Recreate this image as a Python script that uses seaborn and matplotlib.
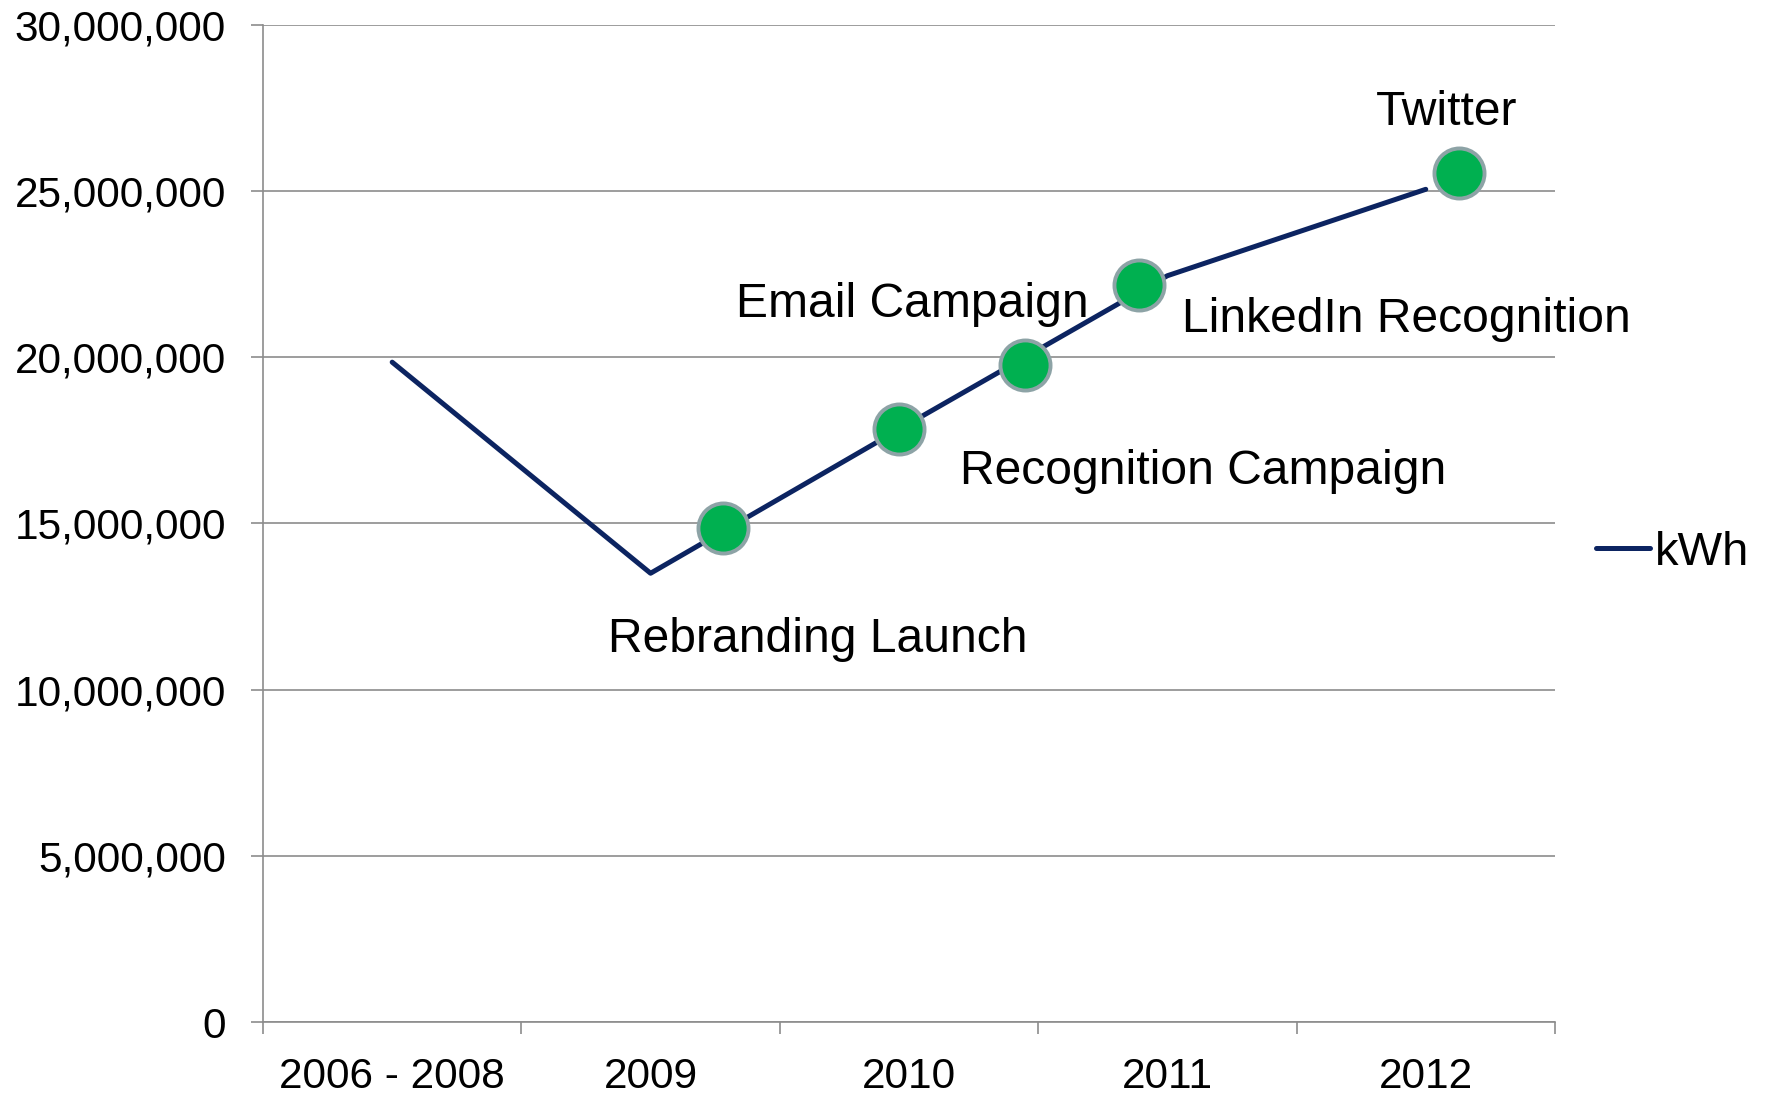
import numpy as np
import pandas as pd
import matplotlib
matplotlib.use("Agg")
import matplotlib.pyplot as plt
import matplotlib.ticker as mticker
import seaborn as sns

# ---- data ----
categories = ["2006 - 2008", "2009", "2010", "2011", "2012"]
kwh = [19850000, 13500000, 18000000, 22450000, 25050000]

milestone_labels = ["Rebranding Launch", "Email Campaign", "Recognition Campaign",
                    "LinkedIn Recognition", "Twitter"]
milestone_x = [1.28, 1.96, 2.45, 2.89, 4.13]          # position along category axis
milestone_y = [14850000, 17840000, 19770000, 22180000, 25550000]

# label anchors (data coords)
label_x = [0.834, 1.332, 2.197, 3.057, 4.079]
label_y = [11520000, 21570000, 16550000, 21130000, 27350000]
label_ha = ["left", "left", "left", "left", "center"]

yticks = [0, 5000000, 10000000, 15000000, 20000000, 25000000, 30000000]

# ---- style ----
sns.set_style("white")
plt.rcParams["font.family"] = ["Liberation Sans", "DejaVu Sans"]
plt.rcParams["text.color"] = "black"
plt.rcParams["xtick.labelcolor"] = "black"
plt.rcParams["ytick.labelcolor"] = "black"

GRID = "#8c8c8c"
NAVY = "#0c2461"

fig = plt.figure(figsize=(17.71, 10.96), dpi=100)
ax = fig.add_axes([0.1485, 0.0675, 0.878 - 0.1485, 0.9774 - 0.0675])

df = pd.DataFrame({"x": np.arange(len(categories)), "kWh": kwh})
sns.lineplot(data=df, x="x", y="kWh", ax=ax, color=NAVY, linewidth=3.6,
             label="kWh", zorder=3)

mdf = pd.DataFrame({"x": milestone_x, "y": milestone_y})
sns.scatterplot(data=mdf, x="x", y="y", ax=ax, s=1300, color="#00b050",
                edgecolor="#8da3a6", linewidth=2.8, zorder=4, legend=False)

for t, x, y, ha in zip(milestone_labels, label_x, label_y, label_ha):
    ax.text(x, y, t, ha=ha, va="center", fontsize=34.6, color="black", zorder=5)

ax.set_xlim(-0.5, len(categories) - 0.5)
ax.set_ylim(0, 30000000)
ax.set_xlabel("")
ax.set_ylabel("")

ax.set_xticks(np.arange(len(categories)))
ax.set_xticklabels(categories)
ax.set_xticks(np.arange(-0.5, len(categories), 1), minor=True)
ax.tick_params(axis="x", which="major", length=0, pad=25, labelsize=30.5,
               labelcolor="black")
ax.tick_params(axis="x", which="minor", length=8.6, width=1.2, color=GRID,
               direction="out", bottom=True)

ax.set_yticks(yticks)
ax.yaxis.set_major_formatter(mticker.FuncFormatter(lambda v, p: f"{int(v):,}"))
ax.tick_params(axis="y", which="major", length=8.6, width=1.2, color=GRID,
               direction="out", left=True, pad=18, labelsize=30.5,
               labelcolor="black")

ax.yaxis.grid(True, color=GRID, linewidth=1.2)
ax.set_axisbelow(True)
for s in ["top", "right"]:
    ax.spines[s].set_visible(False)
for s in ["left", "bottom"]:
    ax.spines[s].set_color(GRID)
    ax.spines[s].set_linewidth(1.2)

leg = ax.legend(loc="center left", bbox_to_anchor=(1596 / 1771, 1 - 553 / 1096),
                bbox_transform=fig.transFigure, frameon=False, fontsize=34,
                handlelength=1.15, handletextpad=0.1, borderpad=0, borderaxespad=0)
for t in leg.get_texts():
    t.set_color("black")

fig.savefig("out.png", dpi=100)
